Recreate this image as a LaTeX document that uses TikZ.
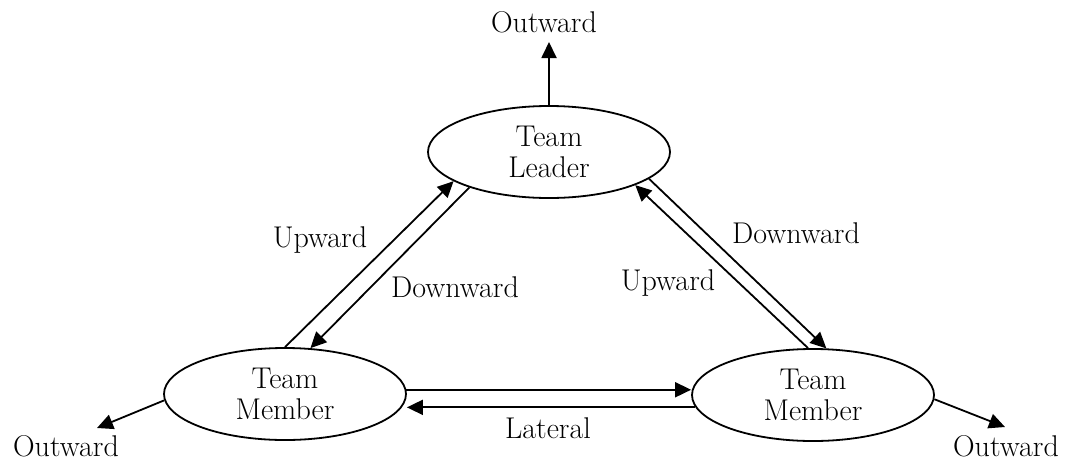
\documentclass[tikz,border=0pt]{standalone}
\usetikzlibrary{shapes.geometric,arrows.meta}
\begin{document}
\begin{tikzpicture}[x=1pt,y=-1pt,
  every node/.style={font=\fontsize{30}{31}\selectfont},
  ell/.style={ellipse,draw,line width=1.8pt,minimum width=242pt,minimum height=92pt,inner sep=0pt,align=center},
  lbl/.style={inner sep=0pt},
  arr/.style={line width=1.8pt,-{Triangle[length=16pt,width=15pt]}}]
\useasboundingbox (0,0) rectangle (1067,461);
\node[ell] (T) at (549,152) {Team\\Leader};
\node[ell] (L) at (285,394) {Team\\Member};
\node[ell] (R) at (813,395) {Team\\Member};
\node[lbl] (o1) at (544,22) {Outward};
\node[lbl] (o2) at (66,446) {Outward};
\node[lbl] (o3) at (1006,446) {Outward};
\coordinate (t1) at (549,42);
\coordinate (t2) at (97,428);
\coordinate (t3) at (1005,427);
\draw[arr] (T.north) -- (t1);
\draw[arr] (L.183) -- (t2);
\draw[arr] (R.-2.4) -- (t3);
% left pair
\draw[arr] (L.north) -- (T.197);
\draw[arr] (T.204.3) -- (L.61);
% right pair
\draw[arr] (R.96) -- (T.339.8);
\draw[arr] (T.345.6) -- (R.74.4);
% lateral
\draw[arr] (L.2) -- (L.2 -| R.west);
\draw[arr] (R.186.2) -- (R.186.2 -| L.east);
\node[lbl] (lu) at (320,240) {Upward};
\node[lbl] (ld) at (455,287) {Downward};
\node[lbl] (rd) at (796,233) {Downward};
\node[lbl] (ru) at (668,283) {Upward};
\node[lbl] (la) at (548,428) {Lateral};
\end{tikzpicture}
\end{document}
